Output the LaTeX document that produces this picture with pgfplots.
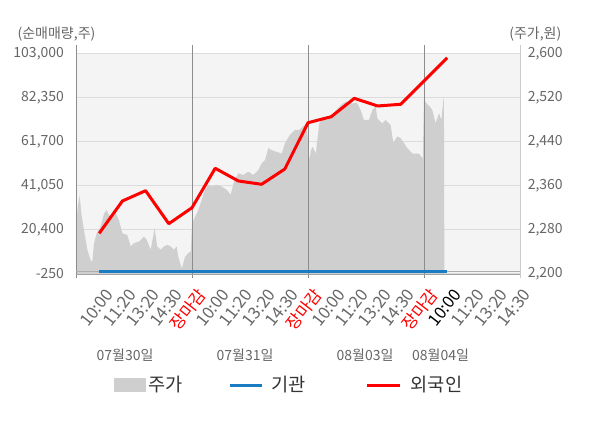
\documentclass[border=0pt]{standalone}
\usepackage{pgfplots}
\pgfplotsset{compat=1.18}
\usepackage{fontspec}
\setmainfont{Noto Sans CJK KR}
\definecolor{bgc}{HTML}{F4F4F4}
\definecolor{areac}{HTML}{CFCFCF}
\definecolor{gridc}{HTML}{DCDCDC}
\definecolor{sepc}{HTML}{8C8C8C}
\definecolor{rightc}{HTML}{CCCCCC}
\definecolor{tickc}{HTML}{666666}
\definecolor{legc}{HTML}{333333}
\definecolor{bluec}{HTML}{1A7DC4}
\definecolor{redc}{HTML}{FF0000}
\begin{document}
\begin{tikzpicture}
\path[use as bounding box] (0,0) rectangle (450pt,321pt);
% ---------- price axis (right) ----------
\begin{axis}[
  at={(57pt,115.5pt)}, anchor=south west,
  scale only axis, width=333pt, height=165pt,
  xmin=0, xmax=19.14, ymin=2200, ymax=2600,
  axis background/.style={fill=bgc},
  axis line style={draw=none},
  clip=false,
  scaled y ticks=false,
  xtick=\empty,
  ytick={2200,2280,2360,2440,2520,2600},
  yticklabels={{2,200},{2,280},{2,360},{2,440},{2,520},{2,600}},
  yticklabel pos=right,
  ymajorgrids, grid style={gridc, line width=0.75pt},
  major tick length=0,
  yticklabel style={font=\fontsize{10.5}{12}\selectfont, text=tickc, xshift=2.3pt},
]
\addplot[fill=areac, draw=none] coordinates {
(0,2200) (0,2274) (0.06,2316) (0.10,2329) (0.16,2342) (0.23,2310) (0.34,2280)
(0.49,2244) (0.63,2225) (0.70,2222) (0.78,2256) (0.89,2274) (1.06,2286)
(1.21,2310) (1.32,2316) (1.42,2307) (1.56,2304) (1.71,2310) (1.85,2298)
(2.0,2274) (2.21,2271) (2.36,2250) (2.5,2256) (2.72,2259) (2.93,2268)
(3.05,2262) (3.22,2244) (3.39,2283) (3.5,2250) (3.65,2244) (3.79,2250)
(3.94,2253) (4.08,2250) (4.22,2244) (4.34,2250) (4.41,2231) (4.56,2210)
(4.7,2231) (4.84,2238) (4.95,2241) (5.0,2292) (5.13,2304) (5.27,2316)
(5.42,2335) (5.56,2353) (5.7,2362) (5.85,2359) (6.06,2362) (6.28,2359)
(6.5,2353) (6.67,2344) (6.81,2368) (7.0,2383) (7.21,2380) (7.43,2386)
(7.64,2380) (7.86,2389) (8.0,2401) (8.15,2407) (8.29,2429) (8.44,2425)
(8.65,2422) (8.87,2419) (9.01,2438) (9.22,2453) (9.44,2462) (9.63,2462)
(9.77,2468) (9.95,2474) (10.0,2438) (10.06,2407) (10.13,2425) (10.2,2431)
(10.34,2419) (10.42,2450) (10.49,2474) (10.63,2483) (10.78,2480) (10.92,2483)
(11.06,2489) (11.21,2498) (11.35,2504) (11.5,2510) (11.64,2513) (11.78,2510)
(11.93,2510) (12.1,2512) (12.27,2498) (12.41,2480) (12.63,2480) (12.77,2498)
(12.92,2504) (12.99,2483) (13.2,2474) (13.35,2480) (13.56,2471) (13.68,2438)
(13.85,2450) (14.0,2447) (14.14,2438) (14.28,2429) (14.5,2419) (14.78,2419)
(14.95,2410) (15.0,2516) (15.12,2510) (15.26,2504) (15.36,2498) (15.5,2474)
(15.65,2492) (15.75,2480) (15.86,2525) (15.88,2200)
};
% axis frame lines and day separators
\draw[sepc, line width=0.6pt] (axis cs:0,2192.7) -- (axis cs:0,2616.4);
\draw[sepc, line width=0.6pt] (axis cs:5,2192.7) -- (axis cs:5,2616.4);
\draw[sepc, line width=0.6pt] (axis cs:10,2192.7) -- (axis cs:10,2616.4);
\draw[sepc, line width=0.6pt] (axis cs:15,2192.7) -- (axis cs:15,2616.4);
\draw[rightc, line width=0.75pt] (axis cs:19.14,2192.7) -- (axis cs:19.14,2616.4);
\draw[sepc!80, line width=0.6pt] (axis cs:0,2200) -- (axis cs:19.14,2200);
\end{axis}
% ---------- quantity axis (left) ----------
\begin{axis}[
  at={(57pt,115.5pt)}, anchor=south west,
  scale only axis, width=333pt, height=165pt,
  xmin=0, xmax=19.14, ymin=-250, ymax=103000,
  axis line style={draw=none},
  clip=false,
  scaled y ticks=false,
  ytick={-250,20400,41050,61700,82350,103000},
  yticklabels={{-250},{20,400},{41,050},{61,700},{82,350},{103,000}},
  yticklabel style={font=\fontsize{10.5}{12}\selectfont, text=tickc, xshift=-5.5pt},
  xtick={1,2,3,4,5,6,7,8,9,10,11,12,13,14,15,16,17,18,19},
  xticklabels={10:00,11:20,13:20,14:30,\textcolor{redc}{장마감},
               10:00,11:20,13:20,14:30,\textcolor{redc}{장마감},
               10:00,11:20,13:20,14:30,\textcolor{redc}{장마감},
               \textcolor{black}{10:00},11:20,13:20,14:30},
  xticklabel style={font=\fontsize{12.5}{14}\selectfont, text=tickc, rotate=52, anchor=east, xshift=-2pt, yshift=-14pt},
  major tick length=0,
]
\draw[sepc!70, line width=0.5pt] (axis cs:0,830) -- (axis cs:19.14,830);
\addplot[bluec, line width=2.25pt] coordinates {
(1,1000) (2,1000) (3,1000) (4,1000) (5,1000) (6,1000) (7,1000) (8,1000) (9,1000)
(10,1000) (11,1000) (12,1000) (13,1000) (14,1000) (16,1000)};
\addplot[redc, line width=2.25pt, line join=round] coordinates {
(1,18850) (2,34000) (3,38850) (4,23350) (5,30850) (6,49350) (7,43400)
(8,41850) (9,49000) (10,70750) (11,73550) (12,82200) (13,78600) (14,79400)
(16,101250)};
\end{axis}
% ---------- annotations ----------
\begin{scope}[x=0.75pt,y=0.75pt]
\node[inner sep=0, text=tickc, font=\fontsize{10.5}{12}\selectfont] at (56.5,394) {(순매매량,주)};
\node[inner sep=0, text=tickc, font=\fontsize{10.5}{12}\selectfont] at (535.3,394) {(주가,원)};
\node[inner sep=0, text=tickc, font=\fontsize{10.5}{12}\selectfont] at (125,73) {07월30일};
\node[inner sep=0, text=tickc, font=\fontsize{10.5}{12}\selectfont] at (245,73) {07월31일};
\node[inner sep=0, text=tickc, font=\fontsize{10.5}{12}\selectfont] at (365,73) {08월03일};
\node[inner sep=0, text=tickc, font=\fontsize{10.5}{12}\selectfont] at (440.5,73) {08월04일};
\fill[areac] (114.3,36.3) rectangle (145.7,49.7);
\node[inner sep=0, anchor=west, text=legc, font=\fontsize{14}{16}\selectfont] at (148.5,43) {주가};
\draw[bluec, line width=2.25pt] (230,42.3) -- (261.7,42.3);
\node[inner sep=0, anchor=west, text=legc, font=\fontsize{14}{16}\selectfont] at (271,43) {기관};
\draw[redc, line width=2.25pt] (367.3,42.3) -- (400,42.3);
\node[inner sep=0, anchor=west, text=legc, font=\fontsize{14}{16}\selectfont] at (410.5,43) {외국인};
\end{scope}
\end{tikzpicture}
\end{document}
